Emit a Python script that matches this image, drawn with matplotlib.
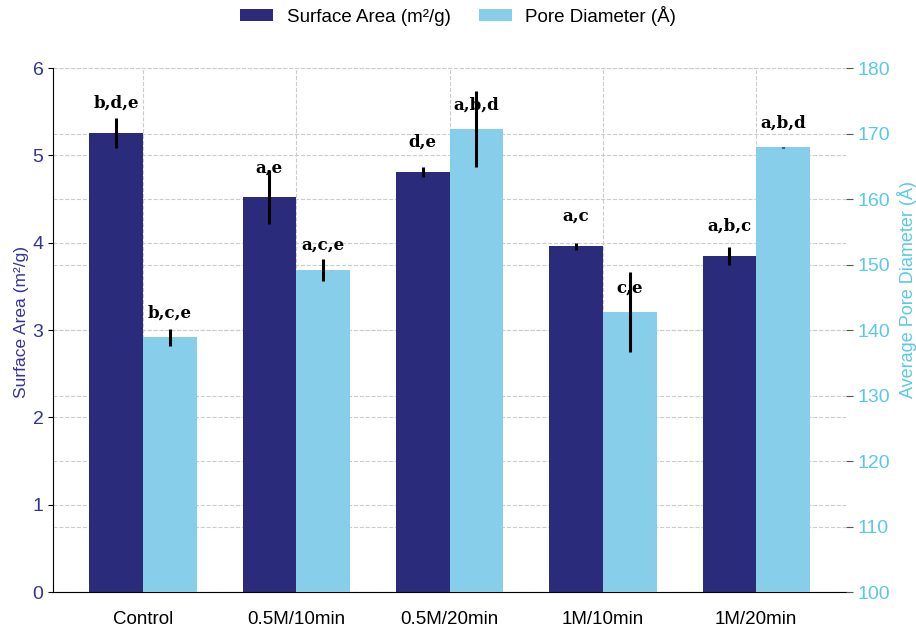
import numpy as np
import matplotlib.pyplot as plt

plt.rcParams['font.family'] = ['Liberation Sans', 'DejaVu Sans']

groups = ['Control', '0.5M/10min', '0.5M/20min', '1M/10min', '1M/20min']
surface_area = [5.26, 4.52, 4.81, 3.96, 3.85]
surface_err = [0.17, 0.31, 0.06, 0.04, 0.10]
pore_diam = [138.9, 149.2, 170.7, 142.7, 167.9]
pore_err = [1.3, 1.7, 5.8, 6.1, 0.1]
sa_letters = ['b,d,e', 'a,e', 'd,e', 'a,c', 'a,b,c']
pd_letters = ['b,c,e', 'a,c,e', 'a,b,d', 'c,e', 'a,b,d']

dark = '#2b2b7b'
light = '#87ceeb'
left_txt = '#33339a'
right_txt = '#5bc8e8'

x = np.arange(len(groups))
w = 0.35

fig = plt.figure(figsize=(9.16, 6.3), dpi=100)
ax1 = fig.add_axes([0.058, 0.0603, 0.8656, 0.8317])
ax2 = ax1.twinx()

b1 = ax1.bar(x - w / 2, surface_area, w, yerr=surface_err, color=dark,
             error_kw=dict(ecolor='black', elinewidth=2.2, capsize=0),
             label='Surface Area (m²/g)', zorder=2)
b2 = ax2.bar(x + w / 2, pore_diam, w, yerr=pore_err, color=light,
             error_kw=dict(ecolor='black', elinewidth=2.2, capsize=0),
             label='Pore Diameter (Å)', zorder=2)

ax1.set_ylim(0, 6)
ax2.set_ylim(100, 180)
ax1.set_xticks(x)
ax1.set_xticklabels(groups, fontsize=13.5)
ax1.tick_params(axis='x', length=0, pad=14)

# grids (right-axis lines drawn on left axis so they stay behind the bars)
ax1.set_axisbelow(True)
ax1.grid(True, linestyle='--', color='#cccccc', linewidth=0.8)
for v in np.arange(100, 181, 10):
    ax1.axhline((v - 100) / 80 * 6, linestyle='--', color='#cccccc', linewidth=0.8, zorder=0)

ax1.set_ylabel('Surface Area (m²/g)', color=left_txt, fontsize=12.5)
ax1.yaxis.set_label_coords(-0.031, 0.515)
ax2.set_ylabel('Average Pore Diameter (Å)', color=right_txt, fontsize=13)
ax2.yaxis.set_label_coords(1.064, 0.578)
ax1.tick_params(axis='y', colors=left_txt, labelsize=14)
ax1.tick_params(axis='y', color='black')
ax2.tick_params(axis='y', colors=right_txt, labelsize=14, length=5)
ax2.tick_params(axis='y', color='#555555')

for s in ['top', 'right']:
    ax1.spines[s].set_visible(False)
for s in ['top', 'right', 'left', 'bottom']:
    ax2.spines[s].set_visible(False)

for xi, v, lab in zip(x, surface_area, sa_letters):
    ax1.text(xi - w / 2, v + 0.34, lab, ha='center', va='center',
             family='DejaVu Serif', fontweight='bold', fontsize=12)
for xi, v, lab in zip(x, pore_diam, pd_letters):
    ax2.text(xi + w / 2, v + 3.7, lab, ha='center', va='center',
             family='DejaVu Serif', fontweight='bold', fontsize=12)

fig.legend([b1, b2], ['Surface Area (m²/g)', 'Pore Diameter (Å)'],
           loc='upper center', bbox_to_anchor=(0.5, 1.018), ncol=2,
           frameon=False, fontsize=13.5, handlelength=1.8, handleheight=0.55,
           handletextpad=0.7, columnspacing=1.5)

fig.savefig('out.png', dpi=100)
